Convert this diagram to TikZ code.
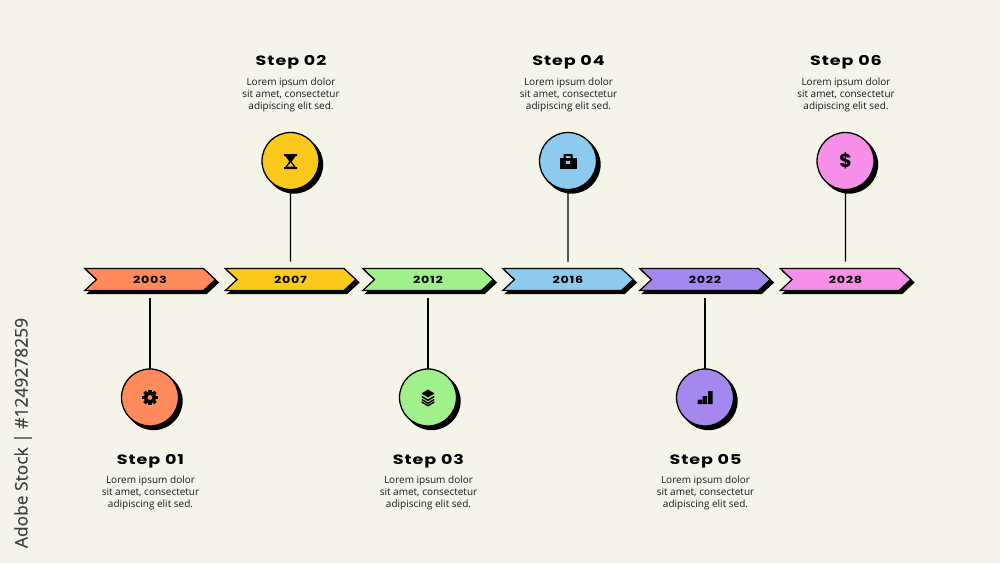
\documentclass[tikz,border=0pt]{standalone}
\usepackage{fontspec}
\setmainfont{Open Sans}
\newfontfamily\headfont[FakeStretch=1.3,LetterSpace=7]{Poppins}
\newfontfamily\signfont{Poppins}
\usetikzlibrary{shapes.symbols,shadows}

\definecolor{paper}{HTML}{F4F4E8}
\definecolor{orangec}{HTML}{FF8A5C}
\definecolor{yellowc}{HTML}{FBC91B}
\definecolor{greenc}{HTML}{A0F08C}
\definecolor{bluec}{HTML}{8CCBEE}
\definecolor{purplec}{HTML}{A488F0}
\definecolor{pinkc}{HTML}{F78FE8}

\tikzset{
  banner/.style={signal,signal from=west,signal to=east,signal pointer angle=86,draw=black,line width=1.2pt,
    fill=#1,minimum width=130.5pt,minimum height=22pt,inner sep=0pt,outer sep=0pt,
    font=\headfont\bfseries\fontsize{9.8}{12}\selectfont,
    copy shadow={shadow xshift=3pt,shadow yshift=-3pt,fill=black,draw=black}},
  disc/.style={circle,draw=black,line width=1.3pt,fill=#1,minimum size=57pt,inner sep=0pt,outer sep=0pt,
    copy shadow={shadow xshift=3.5pt,shadow yshift=-3.5pt,fill=black,draw=black}},
  steptitle/.style={font=\headfont\bfseries\fontsize{13.5}{15}\selectfont},
  stepbody/.style={align=center,inner sep=0pt,font=\fontsize{10}{12}\selectfont,text=black!90},
  stem/.style={line width=1.2pt,shorten >=7pt},
  gearicon/.pic={
    \foreach \a in {0,45,...,315} {\fill[black,rotate=\a] (-1.6,-7.8) rectangle (1.6,0);}
    \fill[black] (0,0) circle (6pt);
    \fill[orangec] (0,0) circle (2.4pt);
  },
  glassicon/.pic={
    \fill[black] (-6.5,-7.5) rectangle (6.5,-5.5) (-6.5,5.5) rectangle (6.5,7.5);
    \fill[black] (-5.5,-6) -- (5.5,-6) -- (1.2,0) -- (5.5,6) -- (-5.5,6) -- (-1.2,0) -- cycle;
    \fill[yellowc] (0,1.2) -- (3.2,5) -- (-3.2,5) -- cycle;
  },
  caseicon/.pic={
    \fill[black,even odd rule] (-4.5,-3) -- (-4.5,-7.5) -- (4.5,-7.5) -- (4.5,-3) -- cycle (-2.5,-3) rectangle (2.5,-5.5);
    \fill[black] (-8.5,-3.5) rectangle (8.5,7.5);
    \fill[bluec] (-2,-0.5) rectangle (2,2.5);
  },
  layericon/.pic={
    \fill[black] (-6.5,-4) -- (0,-8) -- (6.5,-4) -- (0,0) -- cycle;
    \draw[black,line width=1.4pt] (-6.2,-1) -- (0,2.8) -- (6.2,-1);
    \draw[black,line width=1.4pt] (-6.2,2) -- (0,5.8) -- (6.2,2);
    \draw[black,line width=1.4pt] (-6.2,4.5) -- (0,8.2) -- (6.2,4.5);
  },
  barsicon/.pic={
    \fill[black] (-7.5,6.5) rectangle (-3,2) (-2.3,6.5) rectangle (2,-1.5) (3,6.5) rectangle (7.5,-6.5);
  },
}

\begin{document}
\begin{tikzpicture}[x=1pt,y=-1pt]
\fill[paper] (0,0) rectangle (1000,563);
\useasboundingbox (0,0) rectangle (1000,563);

\node [banner=orangec] (band1) at (150,279.5) {2003};
\node [banner=yellowc] (band2) at (290.5,279.5) {2007};
\node [banner=greenc] (band3) at (428,279.5) {2012};
\node [banner=bluec] (band4) at (568,279.5) {2016};
\node [banner=purplec] (band5) at (705,279.5) {2022};
\node [banner=pinkc] (band6) at (845.5,279.5) {2028};

\node [disc=orangec] (disc1) at (150,397.5) {};
\node [disc=yellowc] (disc2) at (290.5,161) {};
\node [disc=greenc] (disc3) at (428,397.5) {};
\node [disc=bluec] (disc4) at (568,161) {};
\node [disc=purplec] (disc5) at (705,397.5) {};
\node [disc=pinkc] (disc6) at (845.5,161) {};

\draw [stem] (disc1) -- (band1);
\draw [stem] (disc2) -- (band2);
\draw [stem] (disc3) -- (band3);
\draw [stem] (disc4) -- (band4);
\draw [stem] (disc5) -- (band5);
\draw [stem] (disc6) -- (band6);

\pic at (150,397.5) {gearicon};
\pic at (290.5,161.5) {glassicon};
\pic at (428,397.5) {layericon};
\pic at (568,161.5) {caseicon};
\pic at (705,397.5) {barsicon};
\node [font=\signfont\bfseries\fontsize{19}{19}\selectfont,inner sep=0pt] (dollar) at (845.5,161) {\$};

\node [steptitle] (title1) at (150.5,461) {Step 01};
\node [steptitle] (title2) at (291,62) {Step 02};
\node [steptitle] (title3) at (428.5,461) {Step 03};
\node [steptitle] (title4) at (568.5,62) {Step 04};
\node [steptitle] (title5) at (705.5,461) {Step 05};
\node [steptitle] (title6) at (846,62) {Step 06};

\node [stepbody] (text1) at (150.5,492.5) {Lorem ipsum dolor\\sit amet, consectetur\\adipiscing elit sed.};
\node [stepbody] (text2) at (291,94.5) {Lorem ipsum dolor\\sit amet, consectetur\\adipiscing elit sed.};
\node [stepbody] (text3) at (428.5,492.5) {Lorem ipsum dolor\\sit amet, consectetur\\adipiscing elit sed.};
\node [stepbody] (text4) at (568.5,94.5) {Lorem ipsum dolor\\sit amet, consectetur\\adipiscing elit sed.};
\node [stepbody] (text5) at (705.5,492.5) {Lorem ipsum dolor\\sit amet, consectetur\\adipiscing elit sed.};
\node [stepbody] (text6) at (846,94.5) {Lorem ipsum dolor\\sit amet, consectetur\\adipiscing elit sed.};

% side line
\node [rotate=90,text=black!75,font=\fontsize{17.4}{20}\selectfont,inner sep=0pt] (credit) at (23,433) {\addfontfeature{FakeBold=0.4}Adobe Stock | \#1249278259};

\end{tikzpicture}
\end{document}
